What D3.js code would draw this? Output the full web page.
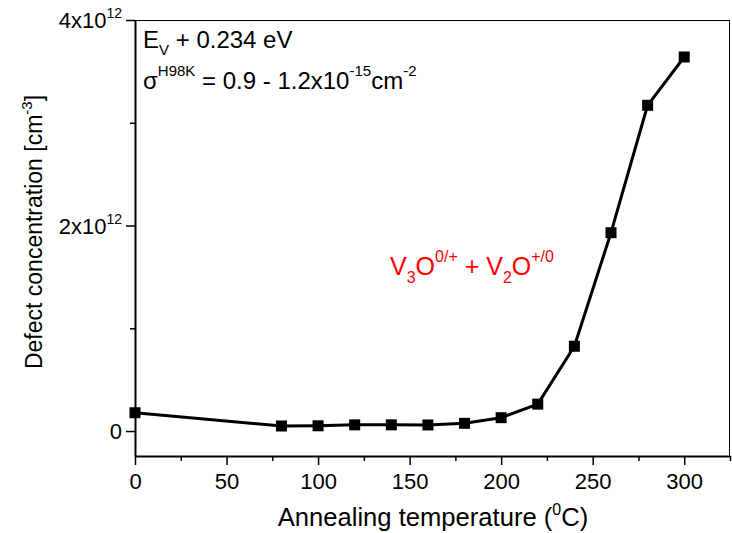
<!DOCTYPE html>
<html>
<head>
<meta charset="utf-8">
<script src="https://cdn.jsdelivr.net/npm/d3@7"></script>
<style>
  html, body { margin: 0; padding: 0; background: #fff; }
  svg { display: block; font-family: "Liberation Sans", Arial, sans-serif; }
</style>
</head>
<body>
<svg id="chart" width="732" height="533"></svg>
<script>
// Annealing temperatures (°C)
const temperatures = [0, 80, 100, 120, 140, 160, 180, 200, 220, 240, 260, 280, 300];
// Defect concentration (cm^-3)
const concentrations = [1.78e11, 0.49e11, 0.51e11, 0.60e11, 0.60e11, 0.59e11, 0.75e11, 1.30e11, 2.62e11, 8.25e11, 1.93e12, 3.17e12, 3.64e12];

const xMajorTicks = [0, 50, 100, 150, 200, 250, 300];
const xMinorTicks = [25, 75, 125, 175, 225, 275, 325];
const yMajorTicks = [0, 2e12, 4e12];
const yMinorTicks = [1e12, 3e12];
// mantissa / exponent pairs for the y tick labels
const yTickLabels = [["0", ""], ["2x10", "12"], ["4x10", "12"]];

const svg = d3.select("#chart");
const plot = { left: 135, right: 730, top: 20, bottom: 456 };

const x = d3.scaleLinear().domain([0, 325]).range([plot.left, plot.right]);
const y = d3.scaleLinear().domain([-0.243e12, 4e12]).range([plot.bottom, plot.top]);

// frame: thin top and right edges
svg.append("line").attr("x1", plot.left).attr("x2", plot.right).attr("y1", plot.top + 0.5).attr("y2", plot.top + 0.5)
  .attr("stroke", "#000").attr("stroke-width", 1);
svg.append("line").attr("x1", plot.right - 0.5).attr("x2", plot.right - 0.5).attr("y1", plot.top).attr("y2", plot.bottom)
  .attr("stroke", "#000").attr("stroke-width", 1);

// x axis
const gx = svg.append("g").attr("transform", `translate(0,${plot.bottom})`);
gx.call(d3.axisBottom(x).tickValues(xMajorTicks).tickSize(9).tickSizeOuter(0).tickPadding(8).tickFormat(d3.format("d")));
gx.append("g").call(d3.axisBottom(x).tickValues(xMinorTicks).tickSize(5).tickSizeOuter(0).tickFormat(""))
  .select(".domain").remove();
gx.selectAll(".domain").attr("stroke-width", 2);
gx.selectAll(".tick line").attr("stroke-width", 1.5);
gx.selectAll(".tick text").attr("font-size", 22).attr("font-family", "Liberation Sans, Arial, sans-serif").attr("fill", "#000");

// y axis
const gy = svg.append("g").attr("transform", `translate(${plot.left},0)`);
gy.call(d3.axisLeft(y).tickValues(yMajorTicks).tickSize(9).tickSizeOuter(0).tickPadding(12).tickFormat(""));
gy.append("g").call(d3.axisLeft(y).tickValues(yMinorTicks).tickSize(5).tickSizeOuter(0).tickFormat(""))
  .select(".domain").remove();
gy.selectAll(".domain").attr("stroke-width", 2);
gy.selectAll(".tick line").attr("stroke-width", 1.5);

// y tick labels with superscript exponents
yMajorTicks.forEach((v, i) => {
  const [mant, exp] = yTickLabels[i];
  const t = gy.append("text")
    .attr("x", -13)
    .attr("y", y(v) + 8)
    .attr("text-anchor", "end")
    .attr("font-size", 22)
    .attr("fill", "#000");
  t.append("tspan").text(mant);
  if (exp) t.append("tspan").attr("font-size", 14).attr("dy", -10).text(exp);
});

// axis titles
const xTitle = svg.append("text")
  .attr("x", 433)
  .attr("y", 526)
  .attr("text-anchor", "middle")
  .attr("font-size", 25.6)
  .attr("fill", "#000");
xTitle.append("tspan").text("Annealing temperature (");
xTitle.append("tspan").attr("font-size", 16).attr("dy", -11).text("0");
xTitle.append("tspan").attr("dy", 11).text("C)");

const yTitle = svg.append("text")
  .attr("transform", `translate(42,${232}) rotate(-90)`)
  .attr("text-anchor", "middle")
  .attr("font-size", 23)
  .attr("fill", "#000");
yTitle.append("tspan").text("Defect concentration [cm");
yTitle.append("tspan").attr("font-size", 15).attr("dy", -10).text("-3");
yTitle.append("tspan").attr("dy", 10).text("]");

// data line and square markers
const line = d3.line().x((d, i) => x(temperatures[i])).y(d => y(d));
svg.append("path")
  .datum(concentrations)
  .attr("d", line)
  .attr("fill", "none")
  .attr("stroke", "#000")
  .attr("stroke-width", 3)
  .attr("stroke-linejoin", "round");

const ms = 11;
svg.append("g").selectAll("rect")
  .data(concentrations)
  .join("rect")
  .attr("x", (d, i) => x(temperatures[i]) - ms / 2)
  .attr("y", d => y(d) - ms / 2)
  .attr("width", ms)
  .attr("height", ms)
  .attr("fill", "#000");

// annotations: level energy and capture cross section
const a1 = svg.append("text").attr("x", 143).attr("y", 48).attr("font-size", 24).attr("fill", "#000");
a1.append("tspan").text("E");
a1.append("tspan").attr("font-size", 15).attr("dy", 7).text("V");
a1.append("tspan").attr("dy", -7).text(" + 0.234 eV");

const a2 = svg.append("text").attr("x", 143).attr("y", 89).attr("font-size", 24).attr("fill", "#000");
a2.append("tspan").text("σ");
a2.append("tspan").attr("font-size", 15).attr("dy", -13).text("H98K");
a2.append("tspan").attr("dy", 13).text(" = 0.9 - 1.2x10");
a2.append("tspan").attr("font-size", 15).attr("dy", -13).text("-15");
a2.append("tspan").attr("dy", 13).text("cm");
a2.append("tspan").attr("font-size", 15).attr("dy", -13).text("-2");

// defect assignment label
const a3 = svg.append("text").attr("x", 390).attr("y", 275).attr("font-size", 25).attr("fill", "#ff0000");
a3.append("tspan").text("V");
a3.append("tspan").attr("font-size", 16).attr("dy", 8).text("3");
a3.append("tspan").attr("dy", -8).text("O");
a3.append("tspan").attr("font-size", 16).attr("dy", -13).text("0/+");
a3.append("tspan").attr("dy", 13).text(" + V");
a3.append("tspan").attr("font-size", 16).attr("dy", 8).text("2");
a3.append("tspan").attr("dy", -8).text("O");
a3.append("tspan").attr("font-size", 16).attr("dy", -13).text("+/0");
</script>
</body>
</html>
